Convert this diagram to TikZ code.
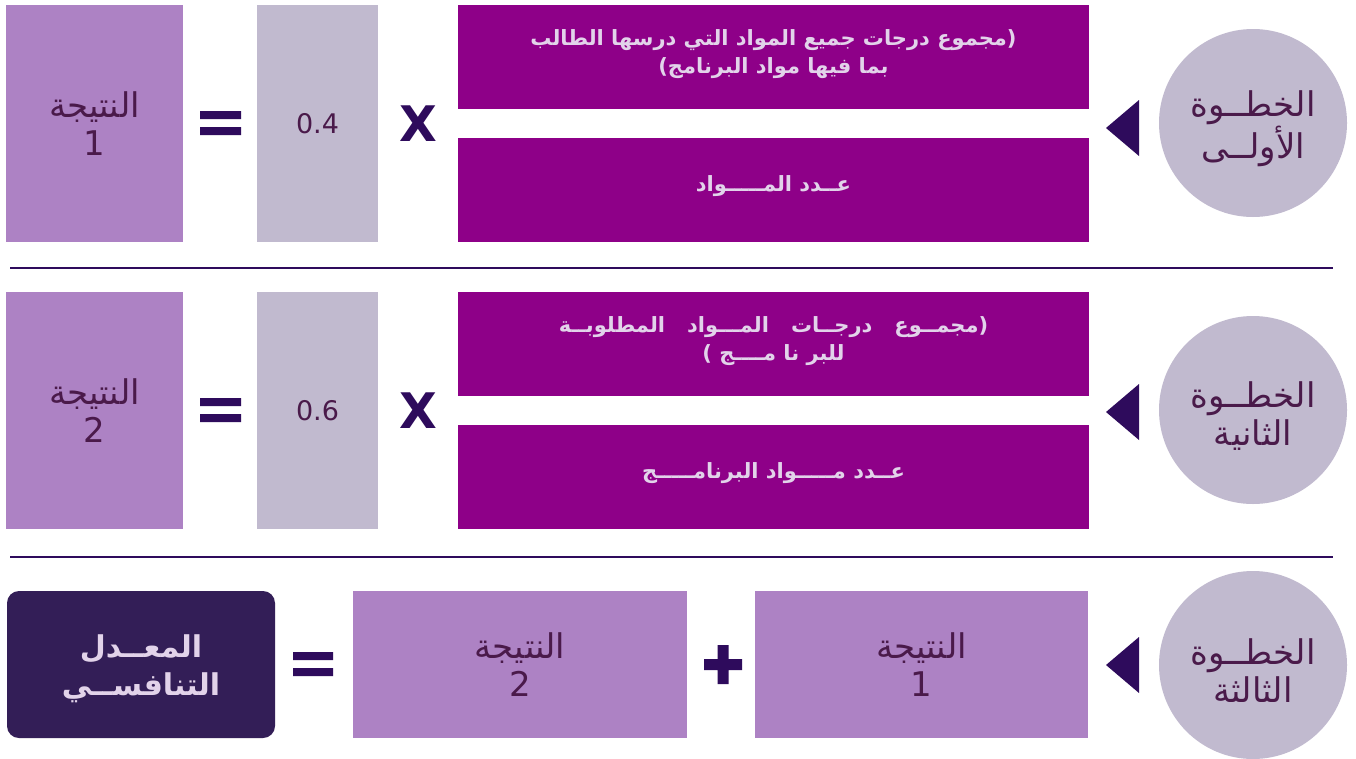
\documentclass[tikz,border=0pt]{standalone}
\usepackage{fontspec}
\setmainfont{DejaVu Sans}
\newfontfamily\arabicfont[Script=Arabic]{DejaVu Sans}
\TeXXeTstate=1
\definecolor{resbox}{HTML}{AD82C4}
\definecolor{greybox}{HTML}{C1BACF}
\definecolor{magbox}{HTML}{8E0088}
\definecolor{magtext}{HTML}{E2D3EA}
\definecolor{darkp}{HTML}{2E0B5C}
\definecolor{circtext}{HTML}{4A1A4A}
\definecolor{finalbox}{HTML}{331E57}
\newcommand{\AR}[1]{{\arabicfont\beginR #1\endR}}
\newcommand{\wsp}{\hspace{1.05em}}
\tikzset{
  resnode/.style={fill=resbox, inner sep=0pt, align=center, text=circtext, font=\fontsize{34}{38}\selectfont},
  factor/.style={fill=greybox, inner sep=0pt, text=circtext, font=\fontsize{27}{30}\selectfont},
  fracbox/.style={fill=magbox, inner sep=0pt, align=center, text=magtext, font=\bfseries\fontsize{21}{28}\selectfont},
  fractext/.style={inner sep=0pt, align=center, text=magtext, font=\bfseries\fontsize{21}{28}\selectfont},
  stepcirc/.style={circle, fill=greybox, inner sep=0pt, minimum size=188pt},
  steptext/.style={inner sep=0pt, align=center, text=circtext, font=\fontsize{34}{38}\selectfont},
  timessign/.style={text=darkp, font=\bfseries\fontsize{49}{49}\selectfont, inner sep=0pt},
  opfill/.style={fill=darkp},
  pointer/.style={fill=darkp},
  sepline/.style={draw=darkp, line width=2pt},
  finalnode/.style={fill=finalbox, rounded corners=12pt, inner sep=0pt, align=center, text=magtext, font=\bfseries\fontsize{30}{38}\selectfont}
}
\begin{document}
\begin{tikzpicture}[x=1pt,y=-1pt]
\useasboundingbox[fill=white] (0,0) rectangle (1356,758);
% Row 1
\node[resnode, minimum width=177pt, minimum height=237pt] (r1) at (94.5,123.5) {\AR{النتيجة}\\1};
\fill[opfill] (200,111) rectangle (241,119) (200,127) rectangle (241,135);
\node[factor, minimum width=121pt, minimum height=237pt] (f1) at (317.5,123.5) {0.4};
\node[timessign] (x1) at (418,124) {X};
\node[fracbox, minimum width=631pt, minimum height=104pt] (n1) at (773.5,57) {};
\node[fractext] (n1t) at ([yshift=3pt]n1.center) {\AR{(مجموع درجات جميع المواد التي درسها الطالب}\\\AR{بما فيها مواد البرنامج)}};
\node[fracbox, minimum width=631pt, minimum height=104pt] (d1) at (773.5,190) {};
\node[fractext] (d1t) at ([yshift=4pt]d1.center) {\AR{عــدد المـــــواد}};
\node[stepcirc] (c1) at (1253,123) {};
\node[steptext] (t1) at ([yshift=-6pt]c1.center) {\AR{الخطــوة}\\\AR{الأولــى}};
\fill[pointer] (1106,128) -- (1139,100) -- (1139,156) -- cycle;
\draw[sepline] (10,268) -- (1333,268);
% Row 2
\node[resnode, minimum width=177pt, minimum height=237pt] (r2) at (94.5,410.5) {\AR{النتيجة}\\2};
\fill[opfill] (200,398) rectangle (241,406) (200,414) rectangle (241,422);
\node[factor, minimum width=121pt, minimum height=237pt] (f2) at (317.5,410.5) {0.6};
\node[timessign] (x2) at (418,411) {X};
\node[fracbox, minimum width=631pt, minimum height=104pt] (n2) at (773.5,344) {};
\node[fractext] (n2t) at ([yshift=3pt]n2.center) {\AR{(مجمــوع\wsp درجــات\wsp المـــواد\wsp المطلوبــة}\\\AR{للبر نا مــــج )}};
\node[fracbox, minimum width=631pt, minimum height=104pt] (d2) at (773.5,477) {};
\node[fractext] (d2t) at ([yshift=4pt]d2.center) {\AR{عــدد مـــــواد البرنامـــــج}};
\node[stepcirc] (c2) at (1253,410) {};
\node[steptext] (t2) at ([yshift=-6pt]c2.center) {\AR{الخطــوة}\\\AR{الثانية}};
\fill[pointer] (1106,412) -- (1139,384) -- (1139,440) -- cycle;
\draw[sepline] (10,557) -- (1333,557);
% Row 3
\node[finalnode, minimum width=268pt, minimum height=147pt] (fin) at (141,664.5) {};
\node[finalnode, fill=none] (fint) at ([yshift=-4pt]fin.center) {\AR{المعــدل}\\\AR{التنافســي}};
\fill[opfill] (293,652) rectangle (333,660) (293,668) rectangle (333,676);
\node[resnode, minimum width=334pt, minimum height=147pt] (r3b) at (520,664.5) {\AR{النتيجة}\\2};
\fill[opfill] (704,659) rectangle (742,670) (717.5,645) rectangle (728.5,684);
\node[resnode, minimum width=333pt, minimum height=147pt] (r3a) at (921.5,664.5) {\AR{النتيجة}\\1};
\node[stepcirc] (c3) at (1253,665) {};
\node[steptext] (t3) at ([yshift=-6pt]c3.center) {\AR{الخطــوة}\\\AR{الثالثة}};
\fill[pointer] (1106,665) -- (1139,637) -- (1139,693) -- cycle;
\end{tikzpicture}
\end{document}
